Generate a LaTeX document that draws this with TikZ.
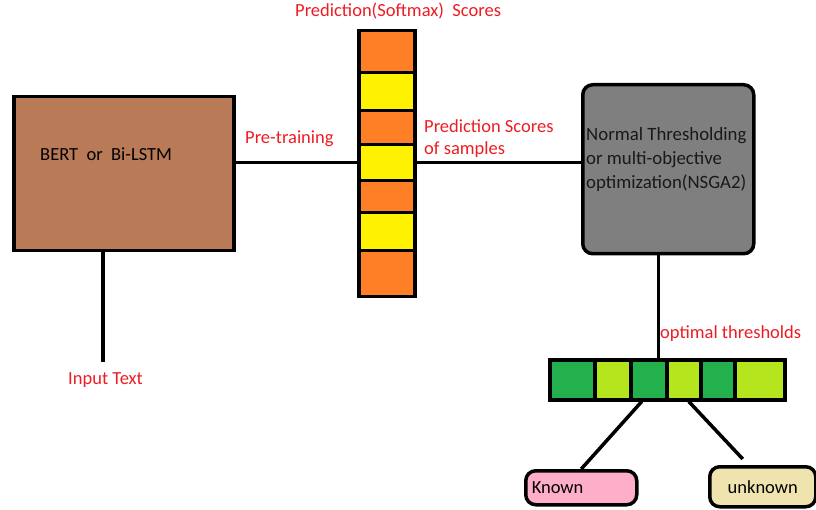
\documentclass[tikz,border=0pt]{standalone}
\usepackage{fontspec}
\setmainfont{Carlito}
\usetikzlibrary{positioning,calc}

\definecolor{paintred}{HTML}{ED1C24}
\definecolor{brownfill}{HTML}{B97A57}
\definecolor{greyfill}{HTML}{7F7F7F}
\definecolor{orangecell}{HTML}{FF7F27}
\definecolor{yellowcell}{HTML}{FFF200}
\definecolor{darkgreen}{HTML}{22B14C}
\definecolor{lightgreen}{HTML}{B5E61D}
\definecolor{pinkfill}{HTML}{FFAEC9}
\definecolor{creamfill}{HTML}{EFE4B0}

\tikzset{
  block/.style={draw, line width=3.5pt, anchor=north west, inner sep=0pt},
  scorecell/.style={draw, line width=3.5pt, anchor=north west, inner sep=0pt, minimum width=56pt},
  thrcell/.style={draw, line width=3.5pt, anchor=north west, inner sep=0pt, minimum height=40pt},
  outbox/.style={draw, line width=3.5pt, anchor=north west, rounded corners=10pt, inner xsep=6pt, inner ysep=0pt},
  redlabel/.style={text=paintred, anchor=west, inner sep=0pt, align=left},
  conn/.style={line width=3.5pt}
}

\begin{document}
\begin{tikzpicture}[x=1pt, y=-1pt, font=\fontsize{18.5}{22}\selectfont]
  \useasboundingbox (0,0) rectangle (816,510);

  % model box
  \node[block, fill=brownfill, minimum width=220pt, minimum height=154pt] (model) at (12,95) {};
  \node[anchor=west, inner sep=0pt] (modeltext) at (40,154) {BERT\ \ or\ \ Bi-LSTM};

  % softmax score column
  \node[scorecell, fill=orangecell, minimum height=42pt] (s1) at (357,29) {};
  \node[scorecell, fill=yellowcell, minimum height=38pt] (s2) at (357,71) {};
  \node[scorecell, fill=orangecell, minimum height=34pt] (s3) at (357,109) {};
  \node[scorecell, fill=yellowcell, minimum height=36pt] (s4) at (357,143) {};
  \node[scorecell, fill=orangecell, minimum height=32pt] (s5) at (357,179) {};
  \node[scorecell, fill=yellowcell, minimum height=38pt] (s6) at (357,211) {};
  \node[scorecell, fill=orangecell, minimum height=46pt] (s7) at (357,249) {};

  % thresholding box
  \node[block, fill=greyfill, rounded corners=10pt, minimum width=171pt, minimum height=169pt] (opt) at (581,83) {};
  \node[anchor=west, inner sep=0pt, align=left, font=\fontsize{18.8}{24}\selectfont, text=black!90] (opttext) at (586,159)
    {Normal Thresholding\\or multi-objective\\optimization(NSGA2)};

  % threshold bar
  \node[thrcell, fill=darkgreen, minimum width=45pt] (g1) at (548,358) {};
  \node[thrcell, fill=lightgreen, minimum width=36pt] (g2) at (593,358) {};
  \node[thrcell, fill=darkgreen, minimum width=36pt] (g3) at (629,358) {};
  \node[thrcell, fill=lightgreen, minimum width=34pt] (g4) at (665,358) {};
  \node[thrcell, fill=darkgreen, minimum width=34pt] (g5) at (699,358) {};
  \node[thrcell, fill=lightgreen, minimum width=50pt] (g6) at (733,358) {};

  % outputs
  \node[outbox, fill=pinkfill, text width=99pt, minimum height=34pt, align=left] (known) at (524,469) {Known};
  \node[outbox, fill=creamfill, text width=94pt, minimum height=40pt, align=center] (unknown) at (708,465) {unknown};

  % labels
  \node[redlabel] (softlabel) at (295,11) {Prediction(Softmax)\ \ Scores};
  \node[redlabel] (pretrain) at (245,139) {Pre-training};
  \node[redlabel] (samples) at (424,139) {Prediction Scores\\of samples};
  \node[redlabel] (thrlabel) at (660,334) {optimal thresholds};
  \node[redlabel] (input) at (68,380) {Input Text};

  % connectors
  \draw[conn] (model.east |- s4.west) -- (s4.west);
  \draw[conn] (s4.east) -- (opt.west |- s4.east);
  \draw[conn] (model.south -| 103,0) -- (103,362);
  \draw[conn] ([xshift=-10pt]opt.south) -- ([xshift=-10pt]opt.south |- g3.north);
  \draw[conn] ([xshift=-7pt]g3.south) -- (known.north);
  \draw[conn] ([xshift=5pt]g4.south) -- ([xshift=-20pt, yshift=6pt]unknown.north);
\end{tikzpicture}
\end{document}
